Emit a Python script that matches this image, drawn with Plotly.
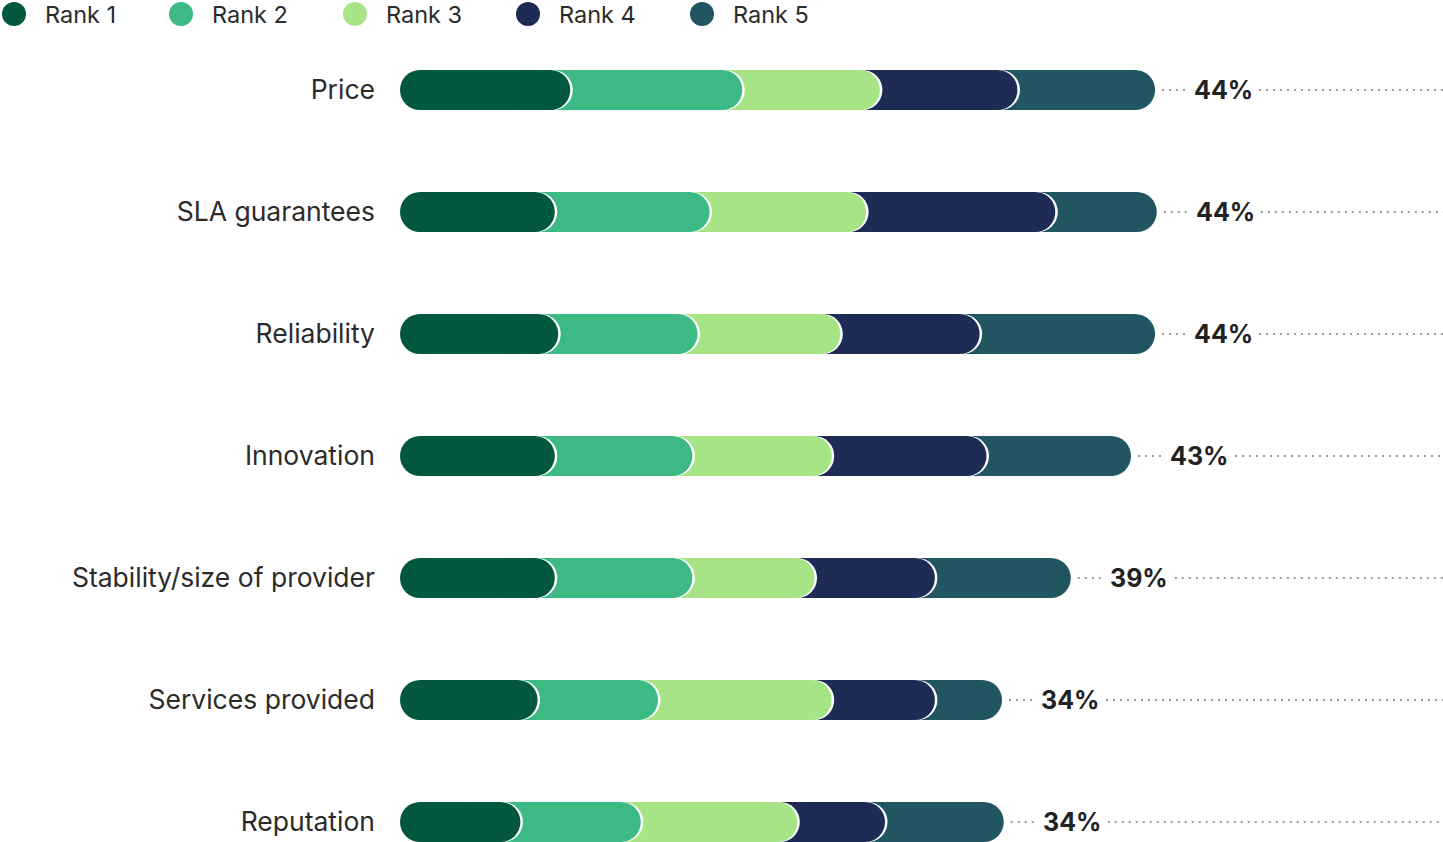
import plotly.graph_objects as go
import numpy as np

categories = ["Price", "SLA guarantees", "Reliability", "Innovation",
              "Stability/size of provider", "Services provided", "Reputation"]
rank_names = ["Rank 1", "Rank 2", "Rank 3", "Rank 4", "Rank 5"]
rank1 = [9.9, 9.0, 9.2, 9.0, 9.0, 8.0, 7.0]
rank2 = [10.0, 9.0, 8.1, 8.0, 8.0, 7.0, 7.0]
rank3 = [8.0, 9.1, 8.3, 8.1, 7.1, 10.1, 9.1]
rank4 = [8.0, 11.0, 8.1, 9.0, 7.0, 6.0, 5.1]
rank5 = [8.0, 5.9, 10.2, 8.4, 7.9, 3.9, 6.9]
total_labels = ["44%", "44%", "44%", "43%", "39%", "34%", "34%"]

colors = ["#02573F", "#3DBA84", "#A7E486", "#1E2C55", "#215561"]

FONT = "Inter"
W, H = 1443, 842
PLOT_LEFT = 400
PX_PER_UNIT = 17.2
X_MAX = (W - PLOT_LEFT) / PX_PER_UNIT
ROW_PX = 122
TOP_PX = 29
BAR_PX = 40
R_PX = 20
HALO_PX = 2.5
r = R_PX / PX_PER_UNIT
px = lambda p: p / PX_PER_UNIT

series = [rank1, rank2, rank3, rank4, rank5]
ends = np.cumsum(np.array(series), axis=0)  # shape (5, n)
n = len(categories)

fig = go.Figure()
bar_w = BAR_PX / ROW_PX


def add_bar(base, length, color):
    fig.add_trace(go.Bar(
        y=categories, x=length, base=base, orientation="h", width=bar_w,
        marker=dict(color=color, cornerradius=R_PX, line=dict(width=0)),
        showlegend=False, hoverinfo="skip"))


# draw rank 5 first so that earlier ranks overlap later ones
for j in range(4, 0, -1):
    base = ends[j - 1] - 2 * r
    add_bar(base, ends[j] - base, colors[j])
    # white ring around the rounded end of the previous segment
    hbase = ends[j - 1] - 3 * r
    add_bar(hbase, ends[j - 1] + px(HALO_PX) - hbase, "white")

# rank 1: left part (rounded at 0) and right part (rounded at its end)
add_bar(ends[0] - r, -(ends[0] - r), colors[0])
add_bar(ends[0] - 3 * r, [3 * r] * n, colors[0])

# dotted leader lines
dx, dy = [], []
tot = ends[-1]
for c, t in zip(categories, tot):
    dx += [t + px(7), t + px(34), None, t + px(104), X_MAX, None]
    dy += [c, c, None, c, c, None]
fig.add_trace(go.Scatter(x=dx, y=dy, mode="lines",
                         line=dict(color="#9b9b9b", width=2, dash="2px,5px"),
                         showlegend=False, hoverinfo="skip"))

annotations = []
for c, t, lab in zip(categories, tot, total_labels):
    annotations.append(dict(x=t, y=c, xref="x", yref="y", text=f"<b>{lab}</b>",
                            showarrow=False, xanchor="left", yanchor="middle",
                            xshift=37, font=dict(size=25, color="#222222", family=FONT)))

# legend (custom, circles + text)
legend_cx = [14, 181, 355, 528, 702]
shapes = []
for name, col, cx in zip(rank_names, colors, legend_cx):
    shapes.append(dict(type="circle", xref="paper", yref="paper",
                       xsizemode="pixel", ysizemode="pixel",
                       xanchor=cx / W, yanchor=1 - 14 / H,
                       x0=-12, x1=12, y0=-12, y1=12,
                       fillcolor=col, line=dict(width=0)))
    annotations.append(dict(x=(cx + 29) / W, y=1 - 14 / H, xref="paper", yref="paper",
                            text=name, showarrow=False, xanchor="left", yanchor="middle",
                            font=dict(size=23.5, color="#2b2b2b", family=FONT)))

span = (H - TOP_PX) / ROW_PX
fig.update_layout(
    width=W, height=H,
    margin=dict(l=0, r=0, t=0, b=0, autoexpand=False),
    paper_bgcolor="white", plot_bgcolor="white",
    barmode="overlay",
    xaxis=dict(domain=[PLOT_LEFT / W, 1], range=[0, X_MAX], showgrid=False,
               zeroline=False, showticklabels=False, showline=False, fixedrange=True),
    yaxis=dict(domain=[0, 1 - TOP_PX / H], range=[-0.5 + span, -0.5],
               type="category", categoryorder="array", categoryarray=categories,
               showgrid=False, zeroline=False, showline=False, ticks="",
               ticklabelstandoff=24, automargin=False,
               tickfont=dict(size=26.5, color="#2b2b2b", family=FONT)),
    shapes=shapes, annotations=annotations, showlegend=False,
)

fig.write_html("out.html", config={"displayModeBar": False},
               post_script="document.body.style.margin='0';document.body.style.overflow='hidden';")
